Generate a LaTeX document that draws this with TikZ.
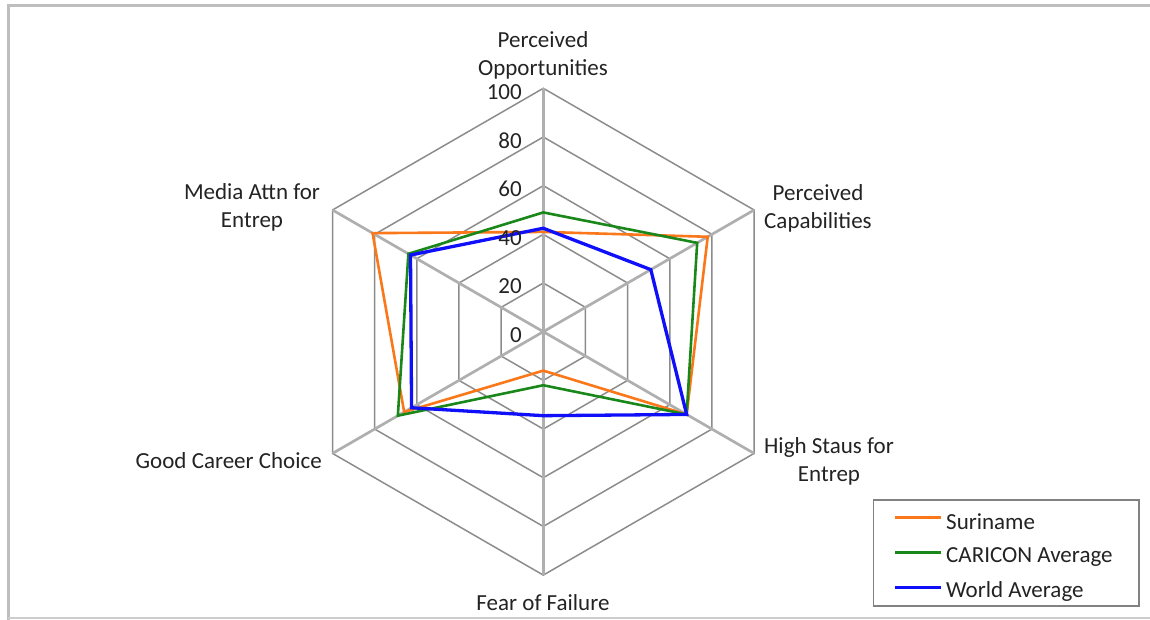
\documentclass[tikz,border=0pt]{standalone}
\usepackage{fontspec}
\setmainfont{Carlito}
\definecolor{txt}{RGB}{35,35,35}
\definecolor{gridgray}{RGB}{140,140,140}
\definecolor{spokegray}{RGB}{175,175,175}
\definecolor{framegray}{RGB}{190,190,190}
\definecolor{bottomgray}{RGB}{205,205,205}
\definecolor{legendgray}{RGB}{130,130,130}
\definecolor{surorange}{RGB}{250,120,25}
\definecolor{cargreen}{RGB}{25,135,25}
\definecolor{worblue}{RGB}{15,15,250}
\begin{document}
\begin{tikzpicture}[x=1pt,y=1pt,
  ring/.style={draw=gridgray, line width=1.5pt},
  spoke/.style={draw=spokegray, line width=2.7pt},
  series/.style={line width=2.6pt, line join=miter},
  sur/.style={series, draw=surorange},
  car/.style={series, draw=cargreen},
  wor/.style={series, draw=worblue, line width=3.3pt},
  lbl/.style={font=\fontsize{23}{28}\selectfont, text=txt, inner sep=0pt, align=center},
  tick/.style={font=\fontsize{23}{28}\selectfont, text=txt, inner sep=0pt, anchor=east}]
\useasboundingbox (0,0) rectangle (1150,-620);

% outer frame
\draw[framegray, line width=3pt] (8,-620) -- (8,-6) -- (1150,-6);
\draw[bottomgray, line width=1.5pt] (8,-618) -- (1150,-618);

\def\R{243.4}
\coordinate (O) at (543.3,-331.7);
\begin{scope}[shift={(O)}]
  % hexagonal grid rings
  \foreach \k in {1,...,5}
    \draw[ring] (90:{\k*\R/5}) -- (30:{\k*\R/5}) -- (-30:{\k*\R/5}) -- (-90:{\k*\R/5})
      -- (-150:{\k*\R/5}) -- (150:{\k*\R/5}) -- cycle;
  % axis ends
  \coordinate (po) at (90:\R);
  \coordinate (pc) at (30:\R);
  \coordinate (hs) at (-30:\R);
  \coordinate (ff) at (-90:\R);
  \coordinate (gc) at (-150:\R);
  \coordinate (ma) at (150:\R);
  \foreach \n in {po,pc,hs,ff,gc,ma} \draw[spoke] (O) -- (\n);

  % Suriname
  \coordinate (s1) at (90:{0.41*\R});
  \coordinate (s2) at (30:{0.78*\R});
  \coordinate (s3) at (-30:{0.68*\R});
  \coordinate (s4) at (-90:{0.16*\R});
  \coordinate (s5) at (-150:{0.66*\R});
  \coordinate (s6) at (150:{0.81*\R});
  % CARICON average
  \coordinate (c1) at (90:{0.49*\R});
  \coordinate (c2) at (30:{0.73*\R});
  \coordinate (c3) at (-30:{0.68*\R});
  \coordinate (c4) at (-90:{0.22*\R});
  \coordinate (c5) at (-150:{0.69*\R});
  \coordinate (c6) at (150:{0.64*\R});
  % World average
  \coordinate (w1) at (90:{0.425*\R});
  \coordinate (w2) at (30:{0.51*\R});
  \coordinate (w3) at (-30:{0.68*\R});
  \coordinate (w4) at (-90:{0.345*\R});
  \coordinate (w5) at (-150:{0.625*\R});
  \coordinate (w6) at (150:{0.63*\R});
\end{scope}

\draw[sur] (s1) -- (s2) -- (s3) -- (s4) -- (s5) -- (s6) -- cycle;
\draw[car] (c1) -- (c2) -- (c3) -- (c4) -- (c5) -- (c6) -- cycle;
\draw[wor] (w1) -- (w2) -- (w3) -- (w4) -- (w5) -- (w6) -- cycle;

% scale values
\foreach \v in {0,20,...,100}
  \node[tick] (t\v) at (522,{\v/100*\R-335.2}) {\v};

% category labels
\node[lbl] (cPO) at (543,-55) {Perceived\\Opportunities};
\node[lbl] (cPC) at (818,-208) {Perceived\\Capabilities};
\node[lbl] (cHS) at (829,-461) {High Staus for\\Entrep};
\node[lbl] (cFF) at (543,-603) {Fear of Failure};
\node[lbl, anchor=east] (cGC) at (322,-461) {Good Career Choice};
\node[lbl] (cMA) at (252,-207) {Media Attn for\\Entrep};

% legend
\node[draw=legendgray, line width=1.5pt, minimum width=265.6pt, minimum height=105.7pt,
  anchor=north west, inner sep=0pt] (legend) at (872.7,-499.3) {};
\coordinate (l1a) at (895,-517.3); \coordinate (l1b) at (941,-517.3);
\coordinate (l2a) at (895,-552.3); \coordinate (l2b) at (941,-552.3);
\coordinate (l3a) at (895,-587.7); \coordinate (l3b) at (941,-587.7);
\draw[sur] (l1a) -- (l1b);
\draw[car] (l2a) -- (l2b);
\draw[wor] (l3a) -- (l3b);
\node[lbl, anchor=west] (l1t) at (946,-521.7) {Suriname};
\node[lbl, anchor=west] (l2t) at (946,-556.7) {CARICON Average};
\node[lbl, anchor=west] (l3t) at (946,-591.7) {World Average};
\end{tikzpicture}
\end{document}
